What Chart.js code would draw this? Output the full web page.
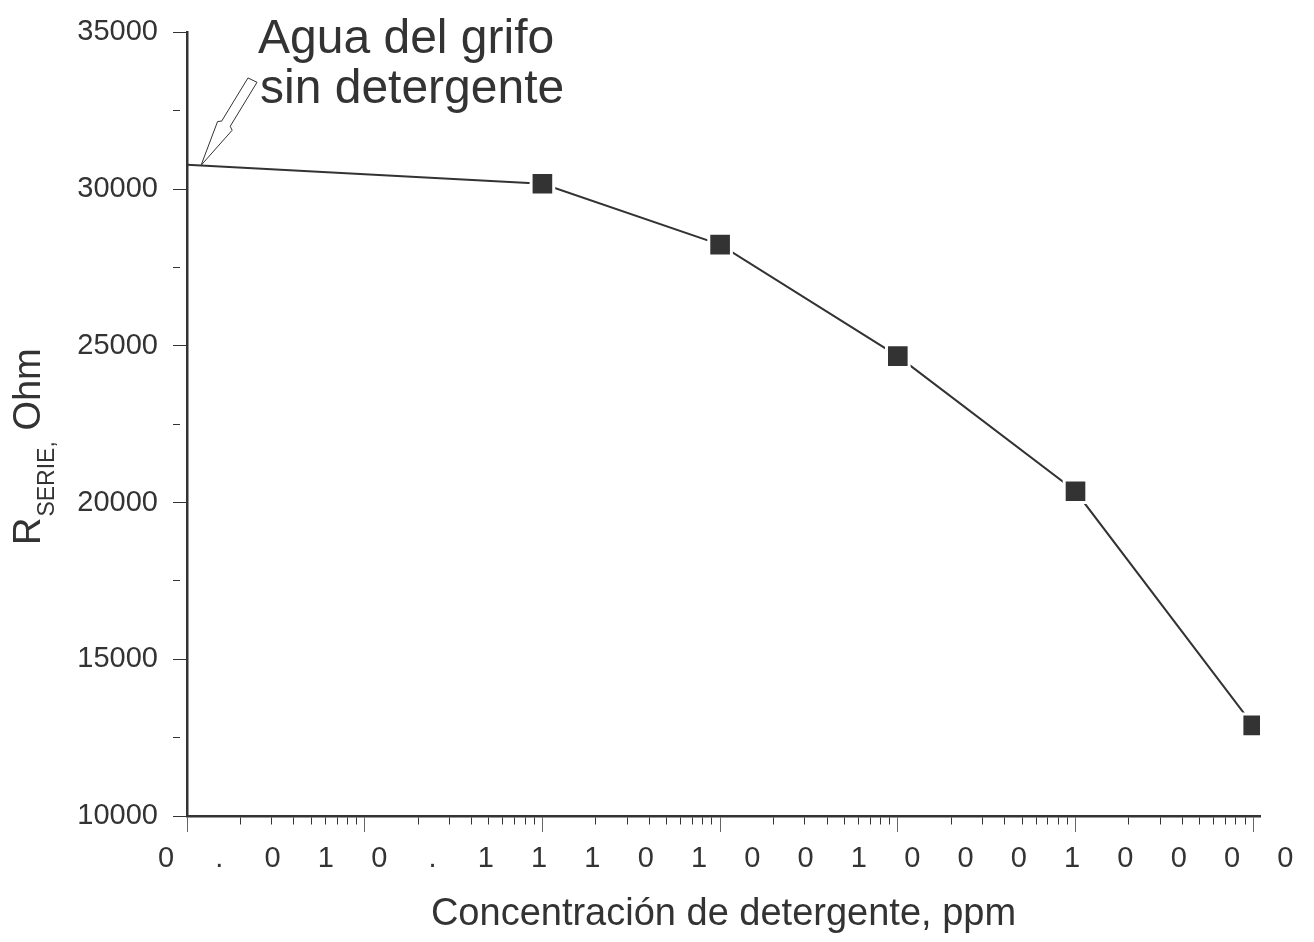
<!DOCTYPE html>
<html><head><meta charset="utf-8">
<script src="https://cdn.jsdelivr.net/npm/chart.js@4/dist/chart.umd.min.js"></script>
<style>html,body{margin:0;padding:0;background:#fff;overflow:hidden}#wrap{width:1314px;height:942px}</style>
</head><body><div id="wrap"><canvas id="c" width="1314" height="942"></canvas></div>
<script>
// ---- data ----
const concentrations = [0.01, 1, 10, 100, 1000, 10000];
const resistances = [30780, 30170, 28230, 24670, 20360, 12890];
const showMarker = [false, true, true, true, true, true];
const yTickValues = [10000, 15000, 20000, 25000, 30000, 35000];
const xDecades = [0.01, 0.1, 1, 10, 100, 1000, 10000];
const xTickChars = ['0','.','0','1','0','.','1','1','1','0','1','0','0','1','0','0','0','1','0','0','0','0'];
const noteLines = ['Agua del grifo', 'sin detergente'];
const notePoint = {x: 0.012, y: 30760};
const yTitleParts = ['R', 'SERIE,', ' Ohm'];
const xTitle = 'Concentración de detergente, ppm';

const FONT = '"Liberation Sans", Arial, Helvetica, sans-serif';
const INK = '#333333';

const overlay = {
  id: 'overlay',
  afterDraw(chart) {
    const ctx = chart.ctx;
    const xs = chart.scales.x, ys = chart.scales.y;
    // y axis title with subscript
    ctx.save();
    ctx.fillStyle = INK;
    ctx.translate(40, 545);
    ctx.rotate(-Math.PI / 2);
    ctx.textAlign = 'left';
    ctx.textBaseline = 'alphabetic';
    ctx.font = '38px ' + FONT;
    ctx.fillText(yTitleParts[0], 0, 0);
    let w = ctx.measureText(yTitleParts[0]).width;
    ctx.font = '23px ' + FONT;
    ctx.fillText(yTitleParts[1], w + 1, 14);
    w += 1 + ctx.measureText(yTitleParts[1]).width;
    ctx.font = '38px ' + FONT;
    ctx.fillText(yTitleParts[2], w, 0);
    ctx.restore();

    // annotation text
    ctx.save();
    ctx.fillStyle = INK;
    ctx.font = '48px ' + FONT;
    ctx.textAlign = 'left';
    ctx.textBaseline = 'alphabetic';
    ctx.fillText(noteLines[0], 258, 53);
    ctx.fillText(noteLines[1], 260, 103);
    ctx.restore();

    // hollow arrow pointing to the start of the curve
    const tx = xs.getPixelForValue(notePoint.x), ty = ys.getPixelForValue(notePoint.y);
    const ang = Math.atan2(-85.3, 51.5);
    const ux = Math.cos(ang), uy = Math.sin(ang);
    const nx = -uy, ny = ux;
    const shape = [[0,0],[46,8.5],[48.5,4.8],[100,5],[99,-5],[48.5,-5.2],[46,-8.5]];
    ctx.save();
    ctx.beginPath();
    shape.forEach(([u, v], i) => {
      const px = tx + u * ux + v * nx, py = ty + u * uy + v * ny;
      if (i === 0) ctx.moveTo(px, py); else ctx.lineTo(px, py);
    });
    ctx.closePath();
    ctx.fillStyle = '#fff';
    ctx.fill();
    ctx.lineWidth = 1;
    ctx.strokeStyle = INK;
    ctx.stroke();
    ctx.restore();
  }
};

new Chart(document.getElementById('c'), {
  type: 'line',
  data: {
    datasets: [{
      data: concentrations.map((x, i) => ({x, y: resistances[i]})),
      borderColor: INK,
      borderWidth: 2,
      tension: 0,
      fill: false,
      pointStyle: 'rect',
      pointRadius: ctx => showMarker[ctx.dataIndex] ? 16 : 0,
      pointHoverRadius: ctx => showMarker[ctx.dataIndex] ? 16 : 0,
      pointBackgroundColor: INK,
      pointBorderColor: '#ffffff',
      pointBorderWidth: 3
    }]
  },
  options: {
    responsive: false,
    animation: false,
    devicePixelRatio: 1,
    layout: {padding: {top: 29, right: 54, bottom: 0, left: 0}},
    plugins: {legend: {display: false}, tooltip: {enabled: false}},
    scales: {
      x: {
        type: 'logarithmic',
        position: 'bottom',
        weight: 0,
        min: 0.01,
        max: 10920,
        afterBuildTicks: s => {
          const t = [];
          xDecades.forEach((d, k) => {
            for (let m = 1; m <= 9; m++) {
              if (k === xDecades.length - 1 && m > 1) break;
              t.push({value: d * m, major: m === 1});
            }
          });
          s.ticks = t;
        },
        afterFit: s => { s.height = 18; },
        border: {display: true, color: INK, width: 2.5},
        grid: {
          display: true, drawOnChartArea: false, drawTicks: true, tickLength: 16,
          tickWidth: 1,
          tickColor: c => (c.tick && c.tick.major) ? '#666' : INK,
          tickBorderDash: c => (c.tick && c.tick.major) ? [] : [7, 100]
        },
        ticks: {display: false}
      },
      x2: {
        type: 'linear',
        position: 'bottom',
        weight: 1,
        bounds: 'data',
        min: 0.394,
        max: 20.525,
        afterBuildTicks: s => { s.ticks = xTickChars.map((c, i) => ({value: i})); },
        afterFit: s => { s.height = 108; },
        border: {display: false},
        grid: {display: false, drawTicks: false},
        ticks: {
          autoSkip: false, maxRotation: 0, minRotation: 0, padding: 8,
          color: INK, font: {family: FONT, size: 29},
          callback: v => xTickChars[v]
        },
        title: {display: true, text: xTitle, color: INK, font: {family: FONT, size: 38}, padding: {top: 0, bottom: 5}}
      },
      y: {
        type: 'linear',
        position: 'left',
        min: 10000,
        max: 35000,
        afterBuildTicks: s => {
          const t = [];
          yTickValues.forEach((v, i) => {
            t.push({value: v});
            if (i < yTickValues.length - 1) t.push({value: (v + yTickValues[i + 1]) / 2});
          });
          s.ticks = t;
        },
        afterFit: s => { s.width = 187; },
        border: {display: true, color: INK, width: 2.5},
        grid: {
          display: true, drawOnChartArea: false, drawTicks: true, tickLength: 14,
          tickWidth: 1, tickColor: INK,
          tickBorderDash: c => (c.tick && yTickValues.includes(c.tick.value)) ? [] : [7, 100]
        },
        ticks: {
          padding: 15, color: INK, font: {family: FONT, size: 29},
          callback: v => yTickValues.includes(v) ? String(v) : ''
        }
      }
    }
  },
  plugins: [overlay]
});
</script>
</body></html>
